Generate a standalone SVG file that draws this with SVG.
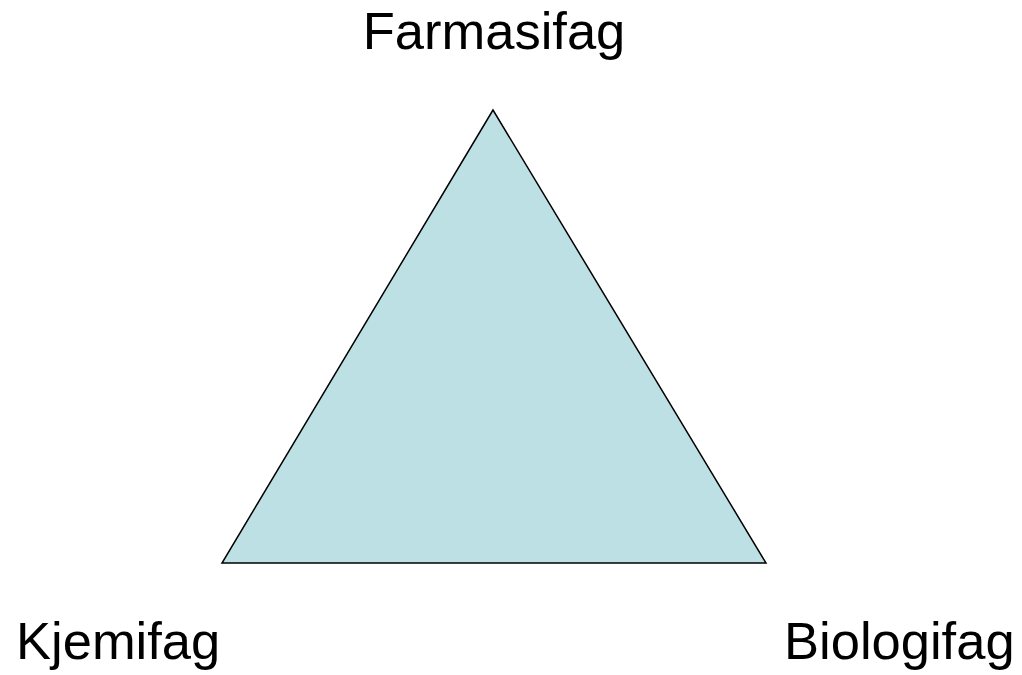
<svg xmlns="http://www.w3.org/2000/svg" width="1022" height="675" viewBox="0 0 1022 675">
<style>
.lbl{font-family:"Liberation Sans",Arial,sans-serif;font-size:52.5px;fill:#000}
.tri{fill:#BCE0E4;stroke:#000;stroke-width:1.5;stroke-linejoin:miter}
</style>
<rect width="1022" height="675" fill="#fff"/>
<g id="triangle">
<polygon class="tri" points="493,110 222,563 766,563"/>
</g>
<g id="farmasifag"><text class="lbl" x="494" y="49" text-anchor="middle">Farmasifag</text></g>
<g id="kjemifag"><text class="lbl" x="16" y="659">Kjemifag</text></g>
<g id="biologifag"><text class="lbl" x="784" y="659">Biologifag</text></g>
<g id="connectors"></g>
</svg>
